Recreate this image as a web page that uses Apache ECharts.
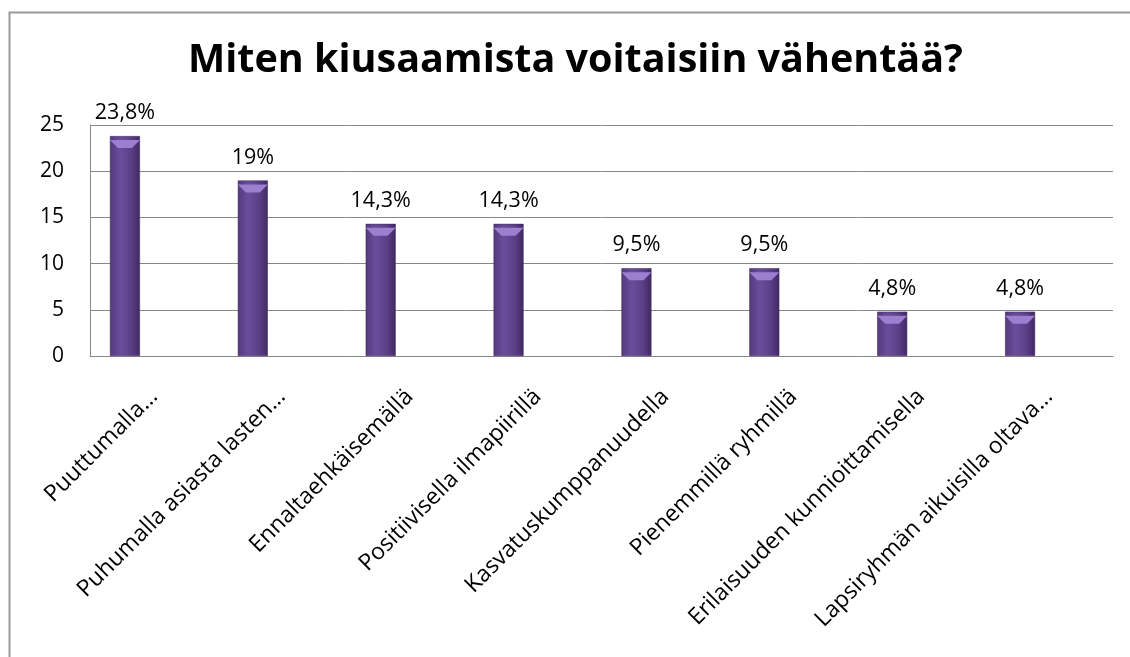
<!DOCTYPE html>
<html>
<head>
<meta charset="utf-8">
<script src="https://cdn.jsdelivr.net/npm/echarts@6/dist/echarts.min.js"></script>
<style>
  html, body { margin: 0; padding: 0; background: #fff; }
  #chart { width: 1130px; height: 657px; }
</style>
</head>
<body>
<div id="chart"></div>
<script>
var categories = [
  "Puuttumalla…",
  "Puhumalla asiasta lasten…",
  "Ennaltaehkäisemällä",
  "Positiivisella ilmapiirillä",
  "Kasvatuskumppanuudella",
  "Pienemmillä ryhmillä",
  "Erilaisuuden kunnioittamisella",
  "Lapsiryhmän aikuisilla oltava…"
];
var values = [23.8, 19, 14.3, 14.3, 9.5, 9.5, 4.8, 4.8];
var yTicks = [0, 5, 10, 15, 20, 25];

var font = "'Open Sans', 'Noto Sans', sans-serif";
var chart = echarts.init(document.getElementById("chart"));

var barColor = new echarts.graphic.LinearGradient(0, 0, 1, 0, [
  { offset: 0, color: "#54397e" },
  { offset: 0.35, color: "#6a4e9c" },
  { offset: 0.7, color: "#5a4088" },
  { offset: 1, color: "#3f2a63" }
]);

var option = {
  animation: false,
  graphic: [
    {
      type: "rect",
      shape: { x: 9.5, y: 12.5, width: 1300, height: 900 },
      style: { fill: "none", stroke: "#9a9a9a", lineWidth: 2 }
    },
    {
      type: "text",
      left: 188,
      top: 41,
      style: {
        text: "Miten kiusaamista voitaisiin vähentää?",
        font: "bold 39.5px " + font,
        fill: "#000"
      }
    }
  ],
  grid: [
    { left: 90, right: 17, top: 125, bottom: 301 },
    { left: 61, right: 46, top: 125, bottom: 301 }
  ],
  xAxis: [
    {
      gridIndex: 0,
      type: "category",
      data: categories,
      axisLine: { show: true, lineStyle: { color: "#888", width: 1 } },
      axisTick: { show: false },
      axisLabel: {
        rotate: 45,
        interval: 0,
        margin: 37,
        color: "#000",
        fontSize: 23,
        fontFamily: font
      }
    },
    {
      gridIndex: 1,
      type: "category",
      data: categories,
      show: false
    }
  ],
  yAxis: [
    {
      gridIndex: 0,
      type: "value",
      min: 0,
      max: 25,
      interval: 5,
      axisLine: { show: true, lineStyle: { color: "#888", width: 1 } },
      axisTick: { show: false },
      splitLine: { lineStyle: { color: "#888", width: 1 } },
      axisLabel: {
        margin: 26,
        color: "#000",
        fontSize: 21,
        fontFamily: font
      }
    },
    {
      gridIndex: 1,
      type: "value",
      min: 0,
      max: 25,
      interval: 5,
      show: false,
      splitLine: { show: false }
    }
  ],
  series: [
    {
      type: "bar",
      xAxisIndex: 1,
      yAxisIndex: 1,
      data: values,
      barWidth: 30,
      itemStyle: {
        color: barColor,
        borderColor: "#3a2858",
        borderWidth: 0.5
      },
      label: {
        show: true,
        position: "top",
        distance: 12,
        color: "#000",
        fontSize: 21.5,
        fontFamily: font,
        formatter: function (p) {
          return String(p.value).replace(".", ",") + "%";
        }
      }
    },
    {
      type: "pictorialBar",
      xAxisIndex: 1,
      yAxisIndex: 1,
      data: values,
      symbol: "path://M0,0 L30,0 L22,8 L8,8 Z",
      symbolSize: [30, 8],
      symbolPosition: "end",
      symbolOffset: [0, 4],
      itemStyle: { color: "#9a80cf" },
      z: 3
    }
  ]
};

chart.setOption(option);
</script>
</body>
</html>
